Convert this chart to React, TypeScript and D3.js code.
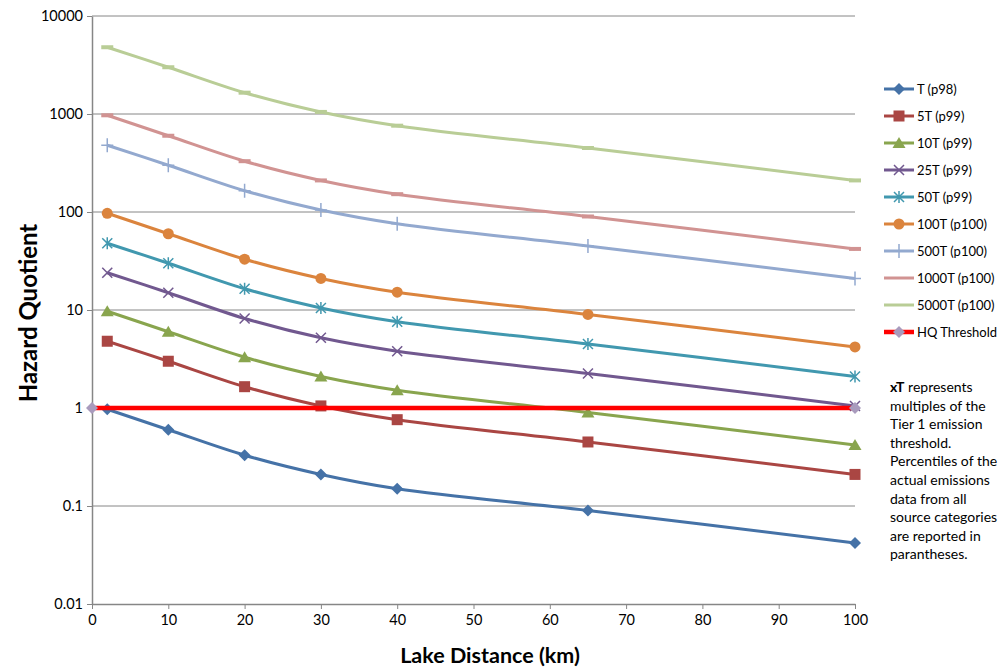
import { useEffect, useRef } from 'react';
import * as d3 from 'd3';

const distances = [2, 10, 20, 30, 40, 65, 100];

const seriesNames = ['T (p98)', '5T (p99)', '10T (p99)', '25T (p99)', '50T (p99)', '100T (p100)', '500T (p100)', '1000T (p100)', '5000T (p100)'];
const seriesColors = ['#4572a7', '#aa4643', '#89a54e', '#71588f', '#4198af', '#db843d', '#93a9cf', '#d19392', '#b9cd96'];
const seriesMarkers = ['diamond', 'square', 'triangle', 'x', 'star', 'circle', 'plus', 'dash', 'dash'];

const tValues = [0.97, 0.6, 0.33, 0.21, 0.15, 0.09, 0.042];
const t5Values = [4.8, 3.0, 1.65, 1.05, 0.76, 0.45, 0.21];
const t10Values = [9.7, 6.0, 3.3, 2.1, 1.52, 0.9, 0.42];
const t25Values = [24, 15, 8.2, 5.2, 3.8, 2.25, 1.05];
const t50Values = [48, 30, 16.5, 10.5, 7.6, 4.5, 2.1];
const t100Values = [97, 60, 33, 21, 15.2, 9, 4.2];
const t500Values = [480, 300, 165, 105, 76, 45, 21];
const t1000Values = [970, 600, 330, 210, 152, 90, 42];
const t5000Values = [4800, 3000, 1650, 1050, 760, 450, 210];

const allValues = [tValues, t5Values, t10Values, t25Values, t50Values, t100Values, t500Values, t1000Values, t5000Values];

const thresholdX = [0, 100];
const thresholdY = [1, 1];

const yTicks = [0.01, 0.1, 1, 10, 100, 1000, 10000];
const xTicks = [0, 10, 20, 30, 40, 50, 60, 70, 80, 90, 100];

const noteLines = ['represents', 'multiples of the', 'Tier 1 emission', 'threshold.', 'Percentiles of the', 'actual emissions', 'data from all', 'source categories', 'are reported in', 'parantheses.'];

const FONT = 'Lato, "Open Sans", sans-serif';

function drawMarker(g, type, x, y, color) {
  if (type === 'diamond') {
    g.append('path').attr('d', `M${x},${y - 6}L${x + 6},${y}L${x},${y + 6}L${x - 6},${y}Z`).attr('fill', color);
  } else if (type === 'square') {
    g.append('rect').attr('x', x - 5.5).attr('y', y - 5.5).attr('width', 11).attr('height', 11).attr('fill', color);
  } else if (type === 'triangle') {
    g.append('path').attr('d', `M${x},${y - 6}L${x + 6.5},${y + 5}L${x - 6.5},${y + 5}Z`).attr('fill', color);
  } else if (type === 'circle') {
    g.append('circle').attr('cx', x).attr('cy', y).attr('r', 5.5).attr('fill', color);
  } else if (type === 'x') {
    g.append('path').attr('d', `M${x - 5},${y - 5}L${x + 5},${y + 5}M${x - 5},${y + 5}L${x + 5},${y - 5}`).attr('stroke', color).attr('stroke-width', 1.5);
  } else if (type === 'star') {
    g.append('path').attr('d', `M${x - 5},${y - 5}L${x + 5},${y + 5}M${x - 5},${y + 5}L${x + 5},${y - 5}M${x},${y - 6}L${x},${y + 6}`).attr('stroke', color).attr('stroke-width', 1.5);
  } else if (type === 'plus') {
    g.append('path').attr('d', `M${x - 6},${y}L${x + 6},${y}M${x},${y - 7}L${x},${y + 7}`).attr('stroke', color).attr('stroke-width', 1.5);
  } else if (type === 'dash') {
    g.append('path').attr('d', `M${x - 6},${y}L${x + 6},${y}`).attr('stroke', color).attr('stroke-width', 4);
  }
}

const App = () => {
  const svgRef = useRef(null);

  useEffect(() => {
    const svg = d3.select(svgRef.current);
    svg.selectAll('*').remove();

    const margin = { top: 16, left: 92 };
    const plotW = 763;
    const plotH = 588;

    const x = d3.scaleLinear().domain([0, 100]).range([0, plotW]);
    const y = d3.scaleLog().domain([0.01, 10000]).range([plotH, 0]);

    const g = svg.append('g').attr('transform', `translate(${margin.left},${margin.top})`);

    // gridlines
    g.selectAll('.grid')
      .data(yTicks.slice(1))
      .enter()
      .append('line')
      .attr('x1', 0)
      .attr('x2', plotW)
      .attr('y1', d => y(d))
      .attr('y2', d => y(d))
      .attr('stroke', '#868686')
      .attr('stroke-width', 1);

    // axes
    const yAxis = g.append('g').call(d3.axisLeft(y).tickValues(yTicks).tickFormat(d => String(d)).tickSize(5).tickSizeOuter(0));
    const xAxis = g.append('g').attr('transform', `translate(0,${plotH})`).call(d3.axisBottom(x).tickValues(xTicks).tickSize(5).tickSizeOuter(0));
    [yAxis, xAxis].forEach(a => {
      a.select('.domain').attr('stroke', '#868686').attr('stroke-width', 1.5);
      a.selectAll('.tick line').attr('stroke', '#868686');
      a.selectAll('text').attr('font-family', FONT).attr('font-size', 14.5).attr('fill', '#000');
    });
    yAxis.selectAll('text').attr('x', -9);
    xAxis.selectAll('text').attr('y', 11);

    const line = d3.line()
      .x(d => x(d[0]))
      .y(d => y(d[1]))
      .curve(d3.curveCatmullRom.alpha(0.5));

    allValues.forEach((vals, i) => {
      const pts = distances.map((d, j) => [d, vals[j]]);
      g.append('path')
        .datum(pts)
        .attr('fill', 'none')
        .attr('stroke', seriesColors[i])
        .attr('stroke-width', 3)
        .attr('d', line);
    });

    allValues.forEach((vals, i) => {
      distances.forEach((d, j) => drawMarker(g, seriesMarkers[i], x(d), y(vals[j]), seriesColors[i]));
    });

    // threshold
    g.append('path')
      .datum(thresholdX.map((d, j) => [d, thresholdY[j]]))
      .attr('fill', 'none')
      .attr('stroke', '#ff0000')
      .attr('stroke-width', 4.5)
      .attr('d', d3.line().x(d => x(d[0])).y(d => y(d[1])));
    thresholdX.forEach((d, j) => drawMarker(g, 'diamond', x(d), y(thresholdY[j]), '#a99bbd'));

    // axis titles
    svg.append('text')
      .attr('transform', 'translate(37,313) rotate(-90)')
      .attr('text-anchor', 'middle')
      .attr('font-family', FONT)
      .attr('font-weight', 'bold')
      .attr('font-size', 24)
      .text('Hazard Quotient');
    svg.append('text')
      .attr('x', 490)
      .attr('y', 663)
      .attr('text-anchor', 'middle')
      .attr('font-family', FONT)
      .attr('font-weight', 'bold')
      .attr('font-size', 21.5)
      .text('Lake Distance (km)');

    // legend
    const legendNames = [...seriesNames, 'HQ Threshold'];
    const legendColors = [...seriesColors, '#ff0000'];
    const legendMarkers = [...seriesMarkers, 'diamond'];
    const lg = svg.append('g');
    legendNames.forEach((name, i) => {
      const ly = 89 + i * 27;
      lg.append('line').attr('x1', 884).attr('x2', 914).attr('y1', ly).attr('y2', ly)
        .attr('stroke', legendColors[i]).attr('stroke-width', i === 9 ? 4.5 : 3);
      if (legendMarkers[i] !== 'dash') {
        drawMarker(lg, legendMarkers[i], 899, ly, i === 9 ? '#a99bbd' : legendColors[i]);
      }
      lg.append('text').attr('x', 917).attr('y', ly + 4.5)
        .attr('font-family', FONT).attr('font-size', 13).text(name);
    });

    // note
    const note = svg.append('g').attr('font-family', FONT).attr('font-size', 14);
    noteLines.forEach((t, i) => {
      const tx = note.append('text').attr('x', 890).attr('y', 392 + i * 18.6);
      if (i === 0) {
        tx.append('tspan').attr('font-weight', 'bold').text('xT');
        tx.append('tspan').text('  ' + t);
      } else {
        tx.text(t);
      }
    });
  }, []);

  return (
    <svg ref={svgRef} width={1005} height={670} style={{ position: 'absolute', left: 0, top: 0, background: '#fff' }}></svg>
  );
};

export default App;
